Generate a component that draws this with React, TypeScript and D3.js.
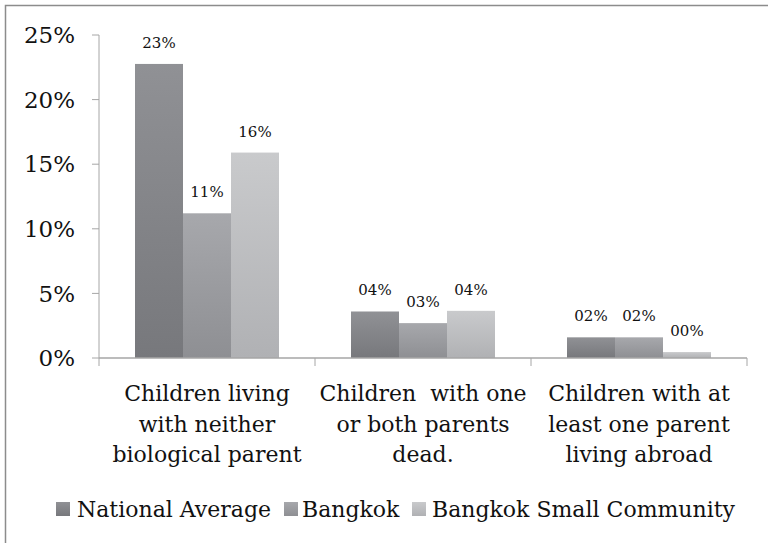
import React from "react";
import * as d3 from "d3";

const categories: string[][] = [
  ["Children living", "with neither", "biological parent"],
  ["Children  with one", "or both parents", "dead."],
  ["Children with at", "least one parent", "living abroad"],
];
const seriesNames = ["National Average", "Bangkok", "Bangkok Small Community"];
const nationalAverage = [0.2276, 0.036, 0.016];
const bangkok = [0.112, 0.027, 0.016];
const smallCommunity = [0.159, 0.0365, 0.0046];
const yTicks = [0, 0.05, 0.1, 0.15, 0.2, 0.25];

const seriesValues = [nationalAverage, bangkok, smallCommunity];
const gradients = [
  ["#909195", "#77787c"],
  ["#a7a8ac", "#8e8f93"],
  ["#c9cacc", "#b0b1b4"],
];

const FONT = "'DejaVu Serif', 'Liberation Serif', serif";

export default function App() {
  const W = 768, H = 543;
  const left = 99, right = 747, top = 35, bottom = 358;
  const x0 = d3.scaleBand<number>().domain([0, 1, 2]).range([left, right]);
  const innerScale = d3.scaleBand<number>().domain([0, 1, 2]).range([36, x0.bandwidth() - 36]);
  const y = d3.scaleLinear().domain([0, 0.25]).range([bottom, top]);
  const fmtPct = (v: number) => String(Math.round(v * 100)).padStart(2, "0") + "%";
  const yFmt = d3.format(".0%");

  const legendItems = [
    { x: 56, tx: 77 },
    { x: 284, tx: 302 },
    { x: 412, tx: 432 },
  ];

  return (
    <div style={{ position: "absolute", left: 0, top: 0 }}>
      <svg width={W} height={H} style={{ display: "block", background: "#fff" }}>
        <defs>
          {gradients.map((g, i) => (
            <linearGradient key={i} id={`g${i}`} x1="0" y1="0" x2="0" y2="1">
              <stop offset="0" stopColor={g[0]} />
              <stop offset="1" stopColor={g[1]} />
            </linearGradient>
          ))}
        </defs>
        <rect x={5.5} y={5.5} width={800} height={600} fill="none" stroke="#8c8c8c" strokeWidth={1.5} />
        {/* y axis */}
        <line x1={left} x2={left} y1={top} y2={bottom} stroke="#a6a6a6" strokeWidth={1} />
        {yTicks.map((t) => (
          <g key={t}>
            <line x1={left - 7} x2={left} y1={y(t)} y2={y(t)} stroke="#a6a6a6" />
            <text x={75} y={y(t)} dy="0.36em" textAnchor="end" fontFamily={FONT} fontSize={23} fill="#111">
              {yFmt(t)}
            </text>
          </g>
        ))}
        {/* bars */}
        {seriesValues.map((vals, s) =>
          vals.map((v, c) => {
            const bx = (x0(c) as number) + (innerScale(s) as number);
            return (
              <g key={`${s}-${c}`}>
                <rect x={bx} y={y(v)} width={innerScale.bandwidth()} height={bottom - y(v)} fill={`url(#g${s})`} />
                <text x={bx + innerScale.bandwidth() / 2} y={y(v) - 16} textAnchor="middle" fontFamily={FONT} fontSize={15} fill="#111">
                  {fmtPct(v)}
                </text>
              </g>
            );
          })
        )}
        {/* x axis */}
        <line x1={left} x2={right} y1={bottom} y2={bottom} stroke="#a6a6a6" strokeWidth={1.5} />
        {[0, 1, 2, 3].map((i) => {
          const xx = left + i * x0.step();
          return <line key={i} x1={xx} x2={xx} y1={bottom} y2={bottom + 8} stroke="#a6a6a6" />;
        })}
        {categories.map((lines, c) => (
          <text key={c} textAnchor="middle" fontFamily={FONT} fontSize={22} fill="#111">
            {lines.map((ln, k) => (
              <tspan key={k} x={(x0(c) as number) + x0.bandwidth() / 2} y={401 + k * 30.5} style={{ whiteSpace: "pre" }}>
                {ln}
              </tspan>
            ))}
          </text>
        ))}
        {/* legend */}
        {seriesNames.map((n, i) => (
          <g key={n}>
            <rect x={legendItems[i].x} y={502} width={14} height={14} fill={`url(#g${i})`} />
            <text x={legendItems[i].tx} y={517} fontFamily={FONT} fontSize={22} fill="#111">
              {n}
            </text>
          </g>
        ))}
      </svg>
    </div>
  );
}
